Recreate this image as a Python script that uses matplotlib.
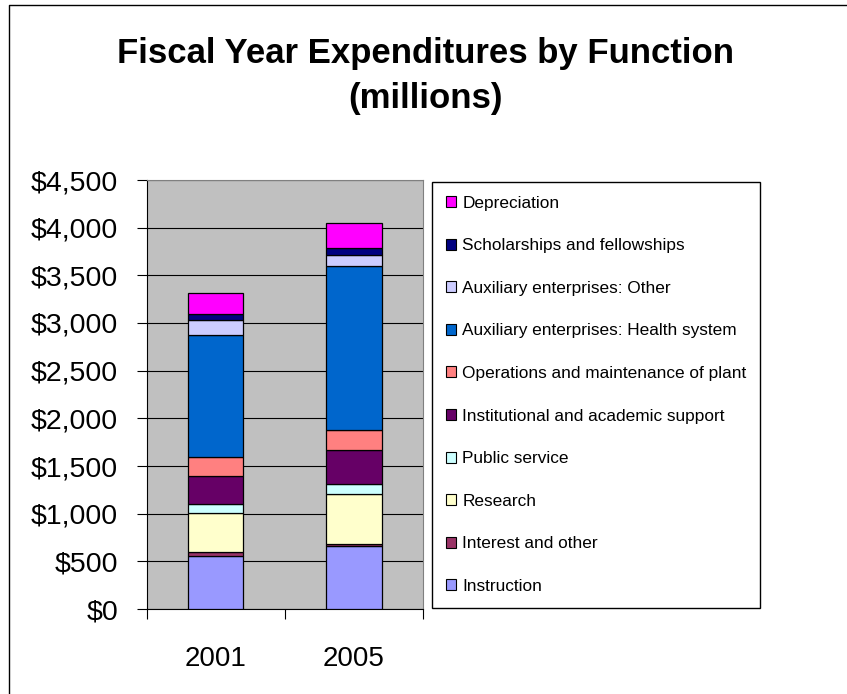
import matplotlib
matplotlib.use("Agg")
import matplotlib.pyplot as plt
from matplotlib.patches import Patch
from matplotlib.lines import Line2D
from matplotlib.ticker import FuncFormatter, MultipleLocator

plt.rcParams['font.family'] = ['Liberation Sans', 'DejaVu Sans']

years = ["2001", "2005"]
categories = [
    "Instruction",
    "Interest and other",
    "Research",
    "Public service",
    "Institutional and academic support",
    "Operations and maintenance of plant",
    "Auxiliary enterprises: Health system",
    "Auxiliary enterprises: Other",
    "Scholarships and fellowships",
    "Depreciation",
]
# expenditures in millions, bottom segment first
values_2001 = [560, 35, 412, 95, 297, 195, 1283, 150, 66, 220]
values_2005 = [664, 21, 520, 105, 360, 210, 1719, 115, 77, 255]
colors = ["#9999FF", "#993366", "#FFFFCC", "#CCFFFF", "#660066",
          "#FF8080", "#0066CC", "#CCCCFF", "#000080", "#FF00FF"]

W, H = 847, 694
fig = plt.figure(figsize=(W / 100, H / 100), dpi=100)
ax = fig.add_axes([146.7 / W, 1 - 609 / H, (423 - 146.7) / W, (609 - 180) / H])
ax.set_facecolor("#C0C0C0")

x = [0, 1]
bottoms = [0, 0]
for i, cat in enumerate(categories):
    seg = [values_2001[i], values_2005[i]]
    ax.bar(x, seg, width=0.4, bottom=bottoms, color=colors[i],
           edgecolor="black", linewidth=0.9, zorder=3)
    bottoms = [bottoms[0] + seg[0], bottoms[1] + seg[1]]

ax.set_xlim(-0.5, 1.5)
ax.set_ylim(0, 4500)
ax.yaxis.set_major_locator(MultipleLocator(500))
ax.yaxis.set_major_formatter(FuncFormatter(lambda v, p: f"${v:,.0f}"))
ax.grid(axis="y", color="black", linewidth=0.8, zorder=1)

ax.set_xticks(x)
ax.set_xticklabels(years)
ax.set_xticks([-0.5, 0.5, 1.5], minor=True)
ax.tick_params(axis="x", which="major", length=0, pad=27, labelsize=20)
ax.tick_params(axis="x", which="minor", length=7.2, width=0.8, color="black")
ax.tick_params(axis="y", length=7.2, width=0.8, pad=13.5, labelsize=20.5)

for s in ["top", "right"]:
    ax.spines[s].set_color("#808080")
for s in ["left", "bottom"]:
    ax.spines[s].set_color("black")

handles = [Patch(facecolor=c, edgecolor="black", linewidth=0.8) for c in colors]
fig.legend(handles[::-1], categories[::-1], loc="upper left",
           bbox_to_anchor=(432 / W, 1 - 182 / H), borderaxespad=0,
           fontsize=12.4, frameon=True, fancybox=False, edgecolor="black",
           framealpha=1, handlelength=0.6, handleheight=0.6,
           handletextpad=0.35, labelspacing=1.6, borderpad=0.8)

fig.text(425.5 / W, 1 - 63.3 / H, "Fiscal Year Expenditures by Function",
         ha="center", va="baseline", fontsize=25, fontweight="bold")
fig.text(425.5 / W, 1 - 108.3 / H, "(millions)",
         ha="center", va="baseline", fontsize=25, fontweight="bold")

# chart frame
fig.add_artist(Line2D([9 / W, 9 / W, 1], [0, 1 - 5 / H, 1 - 5 / H],
                      transform=fig.transFigure, color="black", linewidth=1))

fig.savefig("out.png", dpi=100)
